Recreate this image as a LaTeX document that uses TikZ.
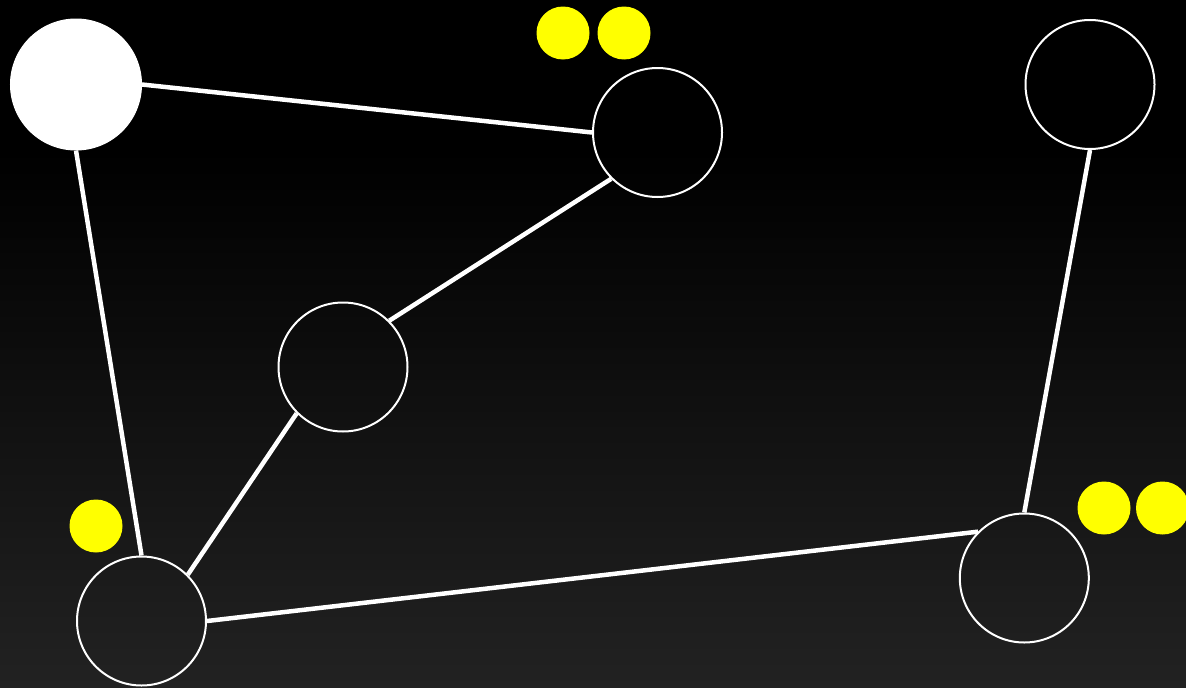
\documentclass[tikz,border=0pt]{standalone}
\begin{document}
\begin{tikzpicture}[x=1pt,y=-1pt,
  vertex/.style={circle,draw=white,line width=2pt,minimum size=129pt,inner sep=0pt},
  hub/.style={circle,fill=white,draw=white,line width=1pt,minimum size=131pt,inner sep=0pt},
  dot/.style={circle,fill=dotyellow,inner sep=0pt,minimum size=53pt},
  edge/.style={white,line width=4.5pt}]
\definecolor{bgbottom}{RGB}{34,34,34}
\definecolor{dotyellow}{RGB}{255,255,0}
\fill[black] (0,0) rectangle (1186,688);
\shade[top color=black,bottom color=bgbottom] (0,150) rectangle (1186,688);
\useasboundingbox (0,0) rectangle (1186,688);
\node[hub] (A) at (76,84.5) {};
\node[vertex] (B) at (657.5,132.5) {};
\node[vertex] (C) at (1090,84.5) {};
\node[vertex] (D) at (343,367) {};
\node[vertex] (E) at (141.5,621) {};
\node[vertex] (F) at (1024.3,578) {};
\node[dot] (y1) at (563,33) {};
\node[dot] (y2) at (624,33) {};
\node[dot] (y3) at (96,526) {};
\node[dot] (y4) at (1104,508) {};
\node[dot] (y5) at (1162.5,508) {};
\draw[edge] (A.east) -- (B.west);
\draw[edge] (A.south) -- (E.north);
\draw[edge] (B.south west) -- (D.north east);
\draw[edge] (D.south west) -- (E.north east);
\draw[edge] (E.east) -- (F.north west);
\draw[edge] (C.south) -- (F.north);
\end{tikzpicture}
\end{document}
